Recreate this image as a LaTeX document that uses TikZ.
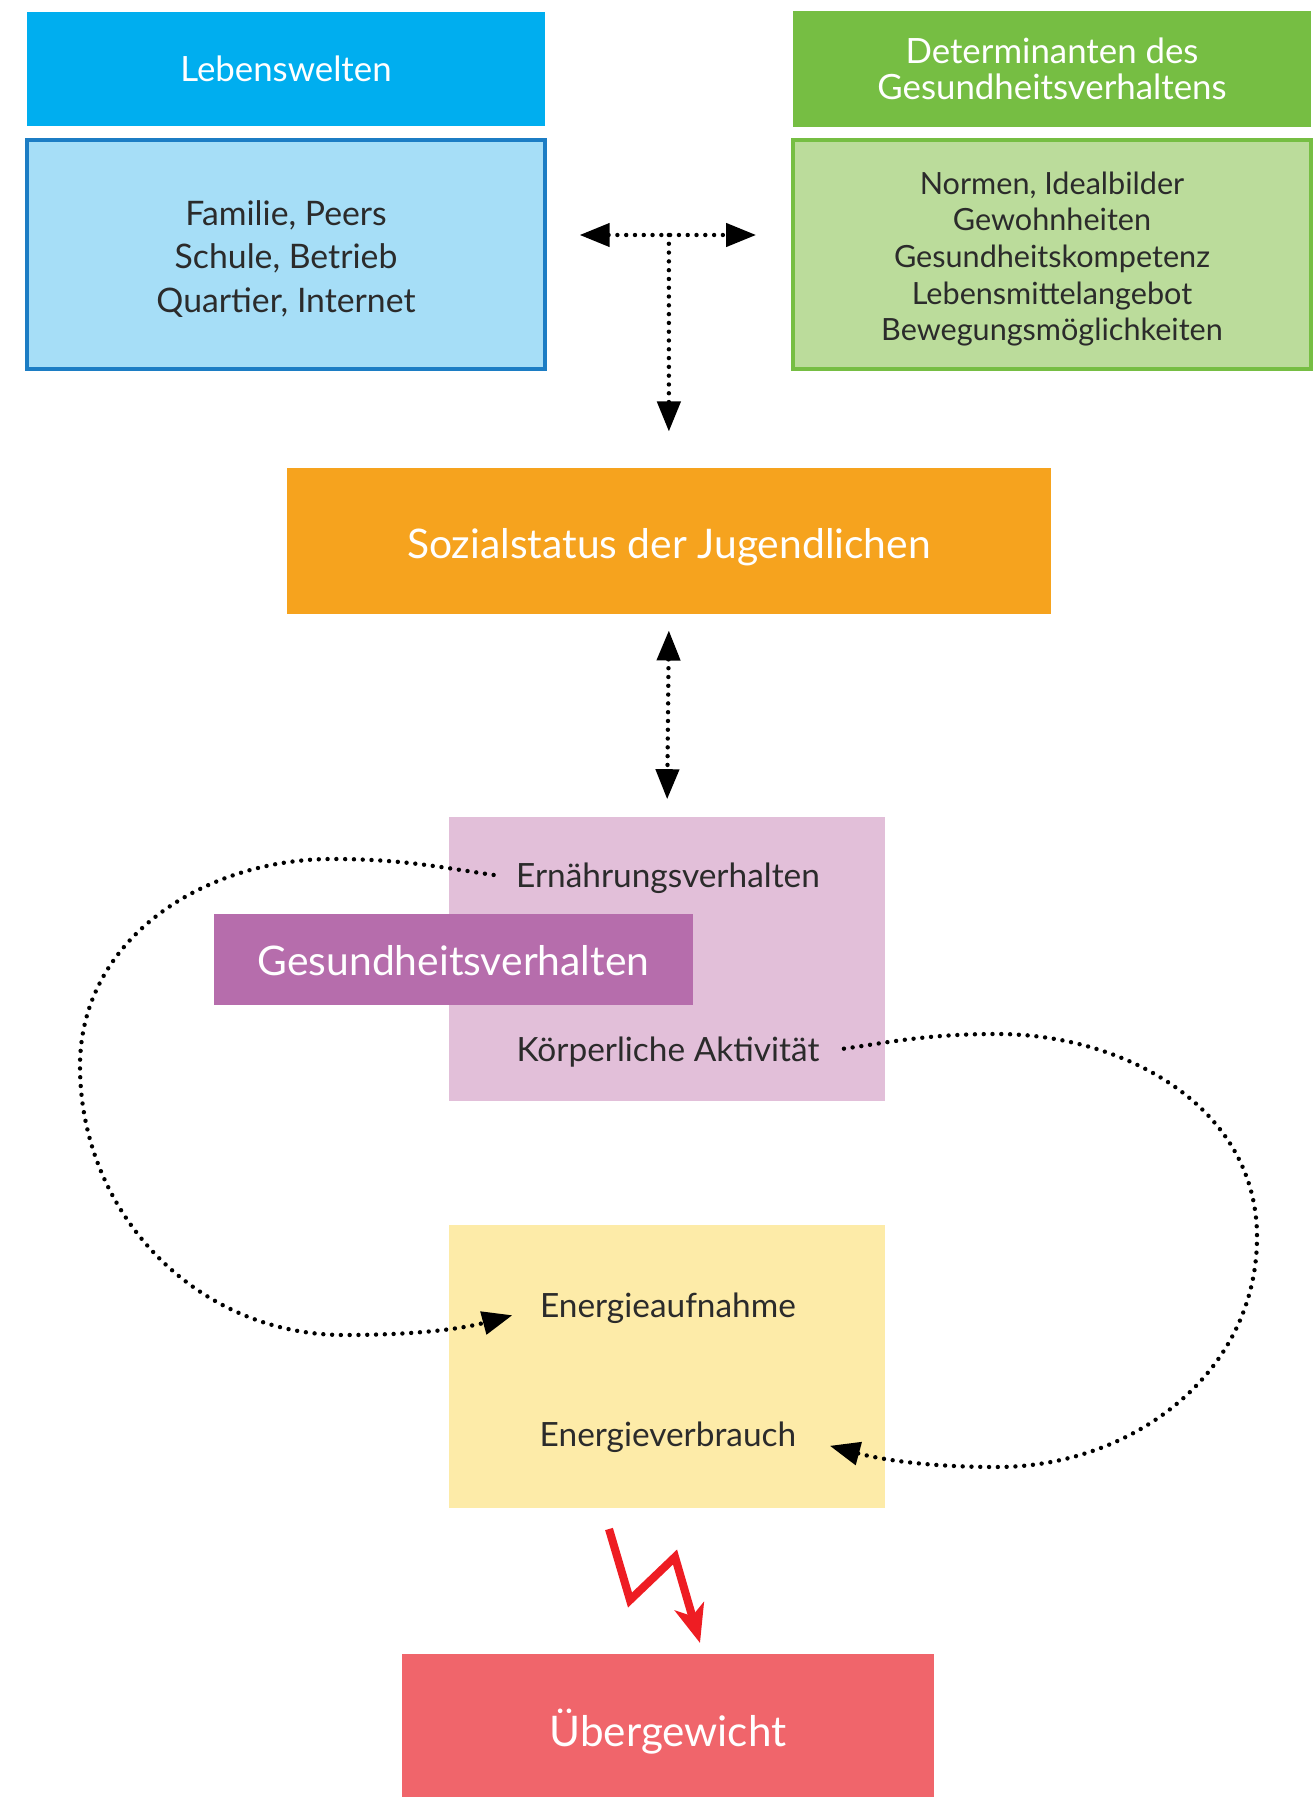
\documentclass[tikz,border=0pt]{standalone}
\usepackage{fontspec}
\setmainfont{Lato}
\usepackage{tikz}
\usetikzlibrary{arrows.meta,calc}

\definecolor{lwhead}{HTML}{00AEEF}
\definecolor{lwbody}{HTML}{A6DEF7}
\definecolor{lwline}{HTML}{1C7DC4}
\definecolor{dethead}{HTML}{76BE43}
\definecolor{detbody}{HTML}{BBDC9B}
\definecolor{sozorange}{HTML}{F6A31E}
\definecolor{verhpink}{HTML}{E2BFD9}
\definecolor{verhlila}{HTML}{B66DAC}
\definecolor{energelb}{HTML}{FDEBA8}
\definecolor{uberrot}{HTML}{F0656B}
\definecolor{blitzrot}{HTML}{EE1D23}
\definecolor{textgrau}{HTML}{2B2B2B}

\tikzset{
  kasten/.style={inner sep=0pt, align=center},
  kopf/.style={kasten, text=white, font=\fontsize{9.9}{12}\selectfont},
  inhalt/.style={kasten, text=textgrau, font=\fontsize{9.6}{12}\selectfont},
  gross/.style={kasten, text=white, font=\fontsize{11.6}{14}\selectfont},
  wort/.style={inner sep=0pt, text=textgrau, font=\fontsize{9.5}{12}\selectfont},
  punkte/.style={line width=1.25pt, line cap=round, dash pattern=on 0pt off 2.5pt},
  spitze/.style={-{Triangle[length=0.3cm,width=0.23cm]}},
  spitzen/.style={{Triangle[length=0.3cm,width=0.23cm]}-{Triangle[length=0.3cm,width=0.23cm]}}
}

\begin{document}
\begin{tikzpicture}[x=0.01cm,y=-0.01cm]
\useasboundingbox (0,0) rectangle (1313,1797);

% obere Reihe
\node[kopf, fill=lwhead, minimum width=5.175cm, minimum height=1.145cm] (lwkopf) at (286,69) {Lebenswelten};
\node[inhalt, fill=lwbody, draw=lwline, line width=1pt, minimum width=5.175cm, minimum height=2.29cm] (lw) at (286,254.5) {};
\node[inhalt, font=\fontsize{9.6}{12.3}\selectfont] (lwtext) at (286,259) {Familie, Peers\\Schule, Betrieb\\Quartier, Internet};
\node[kopf, fill=dethead, minimum width=5.18cm, minimum height=1.155cm, font=\fontsize{9.9}{10.4}\selectfont] (detkopf) at (1052,69) {Determinanten des\\Gesundheitsverhaltens};
\node[inhalt, fill=detbody, draw=dethead, line width=1pt, minimum width=5.18cm, minimum height=2.29cm] (det) at (1052,254.5) {};
\node[inhalt, font=\fontsize{8.7}{10.4}\selectfont] (dettext) at (1052,259) {Normen, Idealbilder\\Gewohnheiten\\Gesundheitskompetenz\\Lebensmittelangebot\\Bewegungsmöglichkeiten};

% Mitte
\node[gross, fill=sozorange, minimum width=7.63cm, minimum height=1.455cm] (soz) at (669,541) {};
\node[gross] (soztext) at (669,547) {Sozialstatus der Jugendlichen};
\node[fill=verhpink, inner sep=0pt, minimum width=4.366cm, minimum height=2.84cm] (verh) at (667,959) {};
\node[gross, fill=verhlila, minimum width=4.79cm, minimum height=0.91cm] (gv) at (453.5,959.5) {};
\node[gross] (gvtext) at (453.5,961) {Gesundheitsverhalten};
\node[wort] (ern) at (668,878) {Ernährungsverhalten};
\node[wort] (akt) at (668,1052) {Körperliche Aktivität};

% unten
\node[fill=energelb, inner sep=0pt, minimum width=4.366cm, minimum height=2.83cm] (energie) at (667,1366.5) {};
\node[wort] (aufn) at (668,1308) {Energieaufnahme};
\node[wort] (verb) at (668,1437) {Energieverbrauch};
\node[gross, fill=uberrot, minimum width=5.32cm, minimum height=1.43cm] (uber) at (668,1725.5) {};
\node[gross, font=\fontsize{12}{14}\selectfont] (ubertext) at (668,1732) {Übergewicht};

% Pfeile
\coordinate (tj) at ($(lw.east)!0.5!(det.west)+(0,-19.5)$);
\draw[punkte, spitzen, shorten <=0.33cm, shorten >=0.35cm] (tj -| lw.east) -- (tj -| det.west);
\draw[punkte, spitze, shorten >=0.36cm] (tj) -- (tj |- soz.north);
\draw[punkte, spitzen, shorten <=0.16cm, shorten >=0.17cm] (soz.south) -- (verh.north);

\draw[punkte, spitze, shorten <=0.22cm, shorten >=0.28cm] (ern.west) to[out=172,in=0] (332,859) to[out=180,in=90] (80,1066) to[out=-90,in=180] (344,1335) to[out=0,in=195] (aufn.west);
\draw[punkte, spitze, shorten <=0.24cm, shorten >=0.34cm] (akt.east) to[out=8,in=180] (997,1034) to[out=0,in=90] (1257,1237) to[out=-90,in=0] (997,1467) to[out=180,in=-15] (verb.east);

% Blitz
\coordinate (b0) at (609,1529);
\coordinate (b3) at (700,1643);
\draw[blitzrot, line width=2.3pt, line join=miter, -{Stealth[length=0.38cm,width=0.3cm,inset=0.1cm]}] (b0) -- (630,1600) -- (675,1557) -- (b3);

\end{tikzpicture}
\end{document}
